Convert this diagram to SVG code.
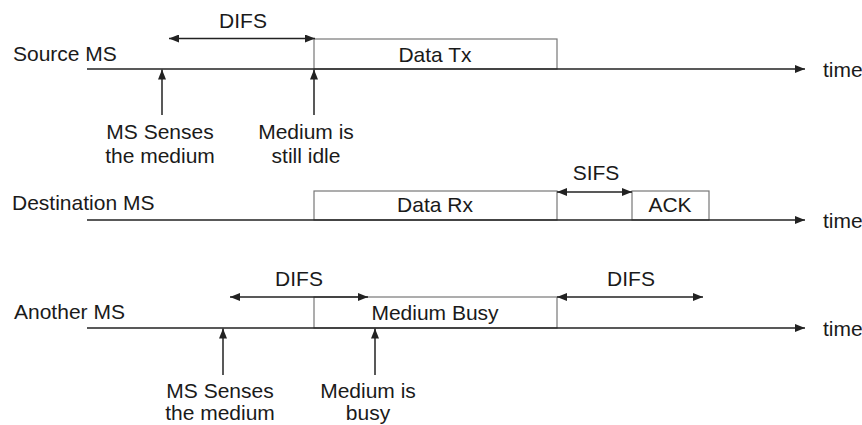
<svg xmlns="http://www.w3.org/2000/svg" width="862" height="425" viewBox="0 0 862 425">
<style>
text{font-family:"Liberation Sans",Arial,sans-serif;font-size:21px;fill:#1a1a1a}
.m{text-anchor:middle}
.tl{stroke:#222;stroke-width:1.6;fill:none}
.box{stroke:#777;stroke-width:1.2;fill:none}
.ar{stroke:#222;stroke-width:1.5;fill:none}
</style>
<defs>
<marker id="ah" viewBox="0 0 10 8" refX="10" refY="4" markerWidth="10" markerHeight="8" markerUnits="userSpaceOnUse" orient="auto-start-reverse">
<path d="M0,0 L10,4 L0,8 Z" fill="#222"/>
</marker>
</defs>
<rect width="862" height="425" fill="#fff"/>
<g id="source">
<text x="13" y="61">Source MS</text>
<rect class="box" x="314" y="39" width="243" height="30"/>
<text class="m" x="435" y="62">Data Tx</text>
<text class="m" x="243" y="28">DIFS</text>
<text x="823" y="77">time</text>
<text class="m" x="160" y="139">MS Senses</text>
<text class="m" x="160" y="163">the medium</text>
<text class="m" x="306" y="139">Medium is</text>
<text class="m" x="306" y="163">still idle</text>
</g>
<g id="destination">
<text x="12" y="210">Destination MS</text>
<rect class="box" x="314" y="191" width="243" height="29"/>
<text class="m" x="435" y="212">Data Rx</text>
<rect class="box" x="632" y="191" width="77" height="29"/>
<text class="m" x="670" y="212">ACK</text>
<text class="m" x="596" y="180">SIFS</text>
<text x="823" y="228">time</text>
</g>
<g id="another">
<text x="14" y="319">Another MS</text>
<rect class="box" x="314" y="297" width="243" height="31"/>
<text class="m" x="435" y="320">Medium Busy</text>
<text class="m" x="299" y="286">DIFS</text>
<text class="m" x="631" y="286">DIFS</text>
<text x="823" y="336">time</text>
<text class="m" x="220" y="398">MS Senses</text>
<text class="m" x="220" y="420">the medium</text>
<text class="m" x="368" y="398">Medium is</text>
<text class="m" x="368" y="420">busy</text>
</g>
<g id="connectors">
<line class="tl" x1="87" y1="69" x2="805" y2="69" marker-end="url(#ah)"/>
<line class="tl" x1="87" y1="220" x2="805" y2="220" marker-end="url(#ah)"/>
<line class="tl" x1="87" y1="328" x2="805" y2="328" marker-end="url(#ah)"/>
<line class="ar" x1="169" y1="38.5" x2="315" y2="38.5" marker-start="url(#ah)" marker-end="url(#ah)"/>
<line class="ar" x1="557" y1="192" x2="632" y2="192" marker-start="url(#ah)" marker-end="url(#ah)"/>
<line class="ar" x1="230" y1="297" x2="368" y2="297" marker-start="url(#ah)" marker-end="url(#ah)"/>
<line class="ar" x1="557" y1="297" x2="703" y2="297" marker-start="url(#ah)" marker-end="url(#ah)"/>
<line class="ar" x1="162" y1="115" x2="162" y2="69.5" marker-end="url(#ah)"/>
<line class="ar" x1="314" y1="115" x2="314" y2="69.5" marker-end="url(#ah)"/>
<line class="ar" x1="223" y1="375" x2="223" y2="328.5" marker-end="url(#ah)"/>
<line class="ar" x1="375" y1="375" x2="375" y2="328.5" marker-end="url(#ah)"/>
</g>
</svg>
